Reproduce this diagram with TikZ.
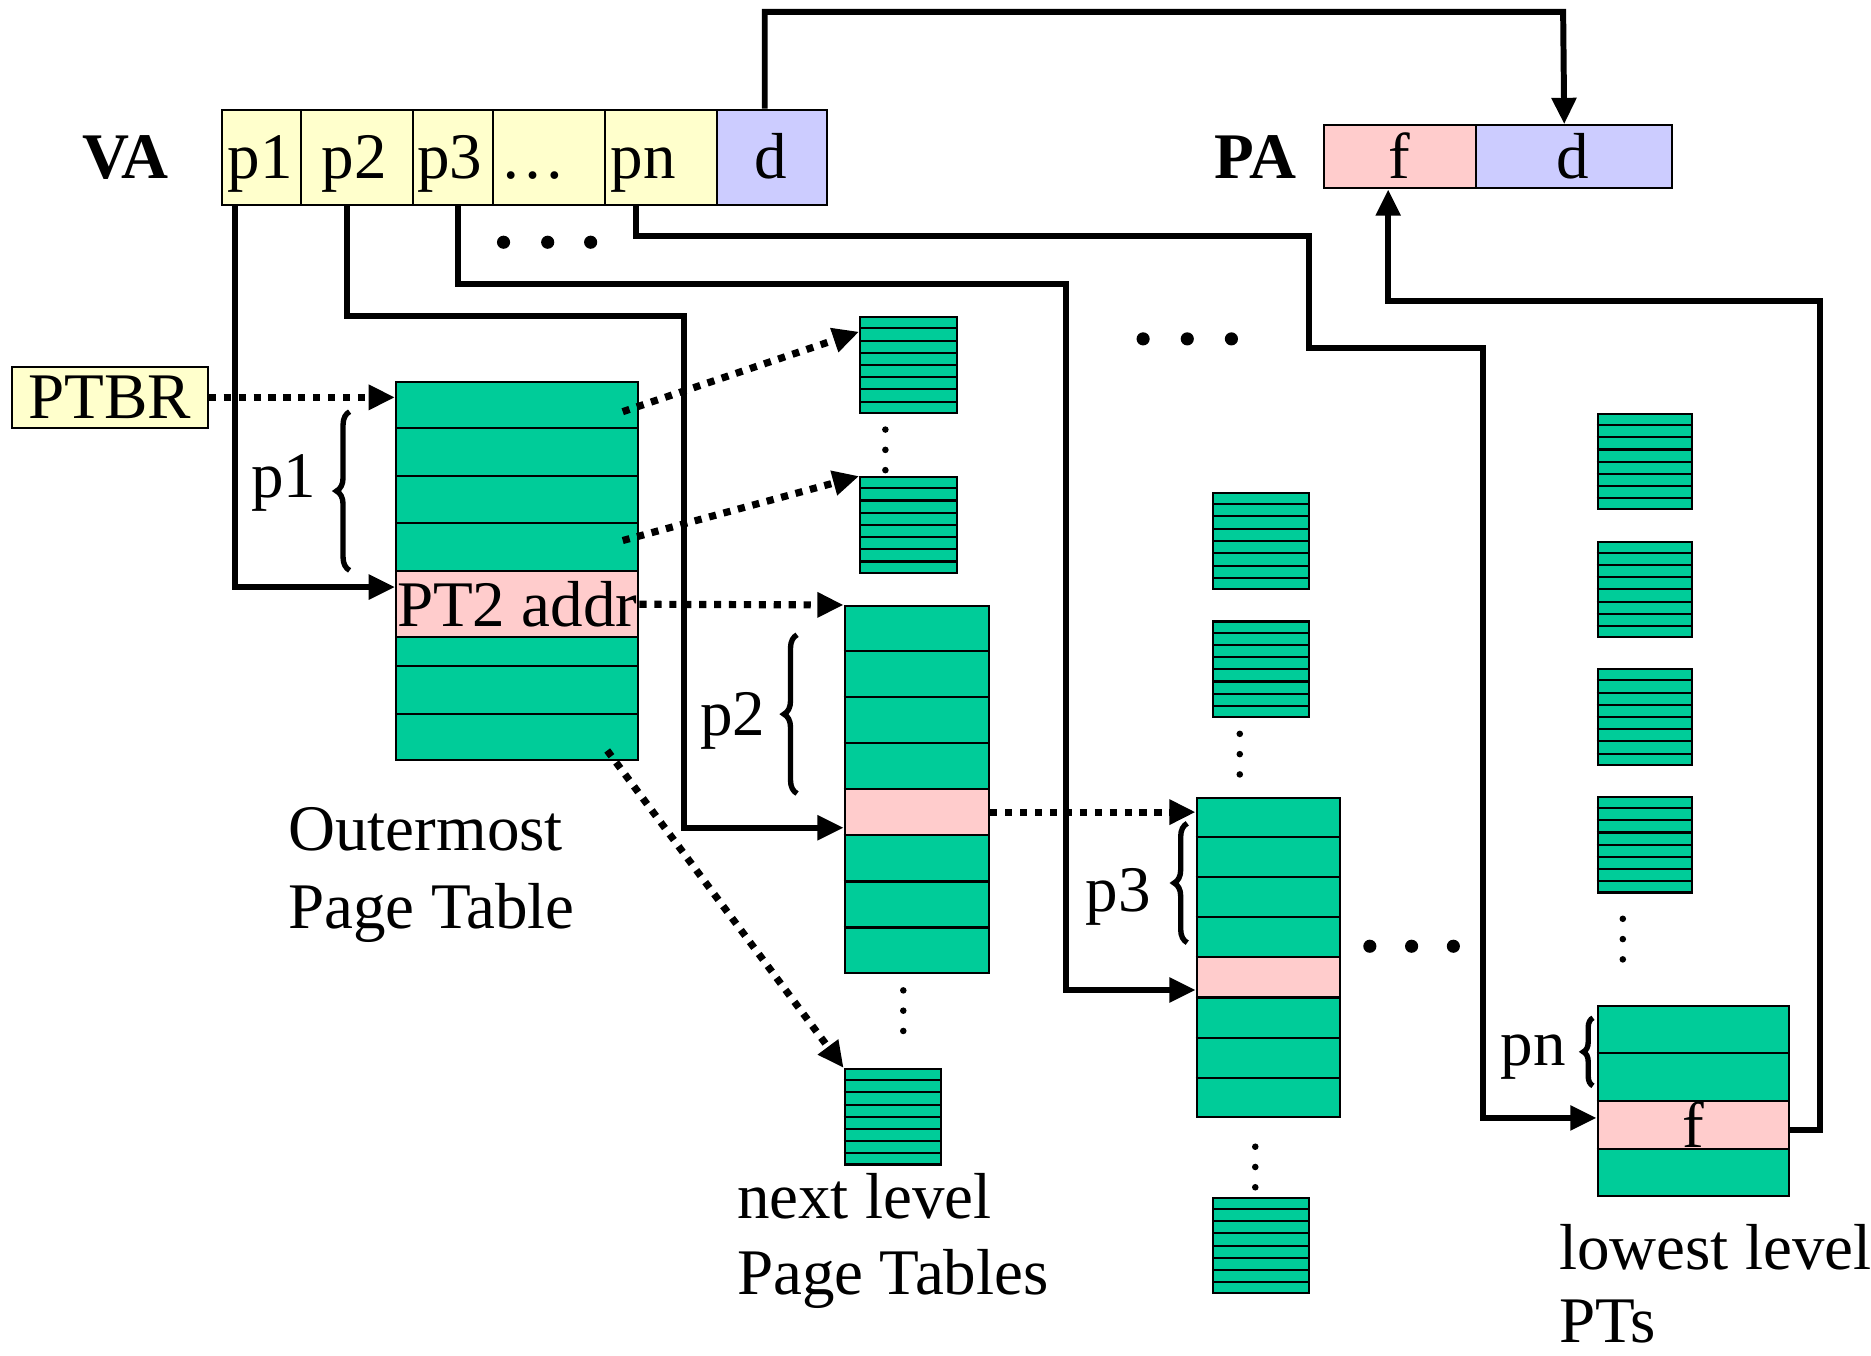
\documentclass[tikz,border=0pt]{standalone}
\usepackage{fontspec}
\setmainfont{Liberation Serif}
\usetikzlibrary{arrows.meta,calc,decorations.pathreplacing}
\definecolor{tgreen}{RGB}{0,204,153}
\definecolor{tpink}{RGB}{255,204,204}
\definecolor{tyellow}{RGB}{255,255,204}
\definecolor{tblue}{RGB}{204,204,255}
\newcommand{\mytable}[6]{%
  \node[tbl, minimum width=#4, minimum height=#5] (#1) at (#2,#3) {};
  \pgfmathtruncatemacro{\nrm}{#6-1}%
  \foreach \i in {1,...,\nrm}{%
    \draw[rowline] ($(#1.north west)!\i/#6!(#1.south west)$) -- ($(#1.north east)!\i/#6!(#1.south east)$);
  }%
}
\begin{document}
\begin{tikzpicture}[x=0.01cm,y=-0.01cm,
  every node/.style={font=\fontsize{15.5}{18.2}\selectfont},
  tbl/.style={draw=black, line width=0.5pt, fill=tgreen, inner sep=0pt, anchor=north west},
  rowline/.style={draw=black, line width=0.5pt},
  prow/.style={draw=black, line width=0.5pt, fill=tpink, inner sep=0pt, anchor=north west},
  cell/.style={draw=black, line width=0.5pt, inner sep=0pt, anchor=north west},
  conn/.style={line width=0.05cm, -{Triangle[length=0.22cm,width=0.2cm]}},
  dotarrow/.style={line width=0.06cm, dash pattern=on 0.06cm off 0.065cm, -{Triangle[length=0.22cm,width=0.2cm]}},
  brc/.style={decorate, decoration={brace, amplitude=0.11cm}, line width=0.045cm},
  bigdot/.style={circle, fill=black, inner sep=0pt, minimum size=0.11cm},
  smalldot/.style={circle, fill=black, inner sep=0pt, minimum size=0.055cm},
  lbl/.style={anchor=base},
]
\useasboundingbox (0,0) rectangle (1568,1136);

% ---------- VA ----------
\node[font=\fontsize{15.5}{18.2}\selectfont\bfseries, anchor=base] (va) at (105,150) {VA};
\node[cell, fill=tyellow, minimum width=0.66cm, minimum height=0.8cm] (p1) at (185,91) {};
\node[cell, fill=tyellow, minimum width=0.94cm, minimum height=0.8cm] (p2) at (251,91) {};
\node[cell, fill=tyellow, minimum width=0.67cm, minimum height=0.8cm] (p3) at (345,91) {};
\node[cell, fill=tyellow, minimum width=0.94cm, minimum height=0.8cm] (pdots) at (412,91) {};
\node[cell, fill=tyellow, minimum width=0.94cm, minimum height=0.8cm] (pn) at (506,91) {};
\node[cell, fill=tblue, minimum width=0.92cm, minimum height=0.8cm] (vad) at (600,91) {};
\node[lbl] (l1) at (218,150) {p1};
\node[lbl] (l2) at (297,150) {p2};
\node[lbl] (l3) at (377,150) {p3};
\node[anchor=base west, inner sep=0pt] (ldots) at (419,150) {…};
\node[anchor=base west, inner sep=0pt] (lpn) at (511,150) {pn};
\node[lbl] (ld) at (646,150) {d};

% ---------- PA ----------
\node[font=\fontsize{15.5}{18.2}\selectfont\bfseries, anchor=base] (pa) at (1052,150) {PA};
\node[cell, fill=tpink, minimum width=1.27cm, minimum height=0.53cm] (paf) at (1109,104) {};
\node[cell, fill=tblue, minimum width=1.64cm, minimum height=0.53cm] (pad) at (1236,104) {};
\node[lbl] (lf) at (1173,150) {f};
\node[lbl] (lpd) at (1318,150) {d};

% ---------- PTBR ----------
\node[draw=black, line width=0.5pt, fill=tyellow, minimum width=1.64cm, minimum height=0.51cm, inner sep=0pt] (ptbr) at (92,333) {PTBR};

% ---------- tables ----------
\mytable{ot}{331}{319}{2.03cm}{3.17cm}{8}
\node[prow, minimum width=2.03cm, minimum height=0.55cm] (pt2) at (331,478) {PT2 addr};

\mytable{ta}{720}{265}{0.81cm}{0.80cm}{8}
\mytable{tb}{720}{399}{0.81cm}{0.80cm}{8}
\mytable{t2}{707}{507}{1.21cm}{3.07cm}{8}
\node[prow, minimum width=1.21cm, minimum height=0.384cm] (t2p) at (707,660.5) {};
\mytable{tc}{707}{895}{0.81cm}{0.80cm}{8}

\mytable{td}{1016}{412}{0.80cm}{0.81cm}{8}
\mytable{te}{1016}{520}{0.80cm}{0.80cm}{8}
\mytable{t3}{1002}{668}{1.20cm}{2.67cm}{8}
\node[prow, minimum width=1.20cm, minimum height=0.334cm] (t3p) at (1002,801.5) {};
\mytable{tf}{1016}{1003}{0.80cm}{0.80cm}{8}

\mytable{tg}{1338}{346}{0.79cm}{0.80cm}{8}
\mytable{th}{1338}{453}{0.79cm}{0.80cm}{8}
\mytable{ti}{1338}{560}{0.79cm}{0.80cm}{8}
\mytable{tj}{1338}{667}{0.79cm}{0.80cm}{8}
\mytable{tk}{1338}{842}{1.60cm}{1.59cm}{4}
\node[prow, minimum width=1.60cm, minimum height=0.40cm] (tkp) at (1338,922) {f};

% ---------- labels ----------
\node[anchor=base west, inner sep=0pt] (om1) at (241,713) {Outermost};
\node[anchor=base west, inner sep=0pt] (om2) at (241,778) {Page Table};
\node[anchor=base west, inner sep=0pt] (nl1) at (617,1021) {next level};
\node[anchor=base west, inner sep=0pt] (nl2) at (617,1085) {Page Tables};
\node[anchor=base west, inner sep=0pt] (ll1) at (1306,1064) {lowest level};
\node[anchor=base west, inner sep=0pt] (ll2) at (1306,1125) {PTs};

% ---------- braces ----------
\draw[brc] (293,478) -- (293,345);
\node (bp1) at (238,405) {p1};
\draw[brc] (668,665) -- (668,532);
\node (bp2) at (614,604) {p2};
\draw[brc] (995,790) -- (995,690);
\node (bp3) at (937,752) {p3};
\draw[brc, decoration={brace, amplitude=0.08cm}] (1335,910) -- (1335,853);
\node (bpn) at (1285,886) {pn};

% ---------- dots ----------
\node[bigdot] (da1) at (422,203) {};
\node[bigdot] (da2) at (459,203) {};
\node[bigdot] (da3) at (495,203) {};
\node[bigdot] (db1) at (958,284) {};
\node[bigdot] (db2) at (995,284) {};
\node[bigdot] (db3) at (1032,284) {};
\node[bigdot] (dc1) at (1148,793) {};
\node[bigdot] (dc2) at (1183,793) {};
\node[bigdot] (dc3) at (1218,793) {};
\foreach \n/\x/\y in {s1/742/360, s2/757/830, s3/1039/615, s4/1052/961, s5/1360/770}{
  \node[smalldot] (\n a) at (\x,\y) {};
  \node[smalldot] (\n b) at (\x,\y+17) {};
  \node[smalldot] (\n c) at (\x,\y+34) {};
}

% ---------- coordinates for bends ----------
\coordinate (bt) at (1310,10);
\coordinate (b2) at (573,265);
\coordinate (b3) at (893,238);
\coordinate (bn1) at (1097,198);
\coordinate (bn2) at (1243,292);
\coordinate (br) at (1525,252);

% ---------- solid connectors ----------
\draw[conn] ($(vad.north)+(-6,0)$) |- (bt) -- ($(pad.north)+(-8,0)$);
\draw[conn] ($(p1.south west)+(12,0)$) |- ($(pt2.north west)+(0,14)$);
\draw[conn] ($(p2.south west)+(40,0)$) |- (b2) |- ($(t2p.south west)+(0,-7)$);
\draw[conn] ($(p3.south west)+(39,0)$) |- (b3) |- ($(t3p.south west)+(0,-7)$);
\draw[conn] ($(pn.south west)+(27,0)$) |- (bn1) |- (bn2) |- ($(tkp.west)+(0,-6)$);
\draw[conn] ($(tkp.east)+(0,4)$) -| (br) -| ($(paf.south)+(-10,0)$);

% ---------- dotted connectors ----------
\draw[dotarrow] (ptbr.east) -- (ptbr.east -| ot.west);
\draw[dotarrow] ($(ot.north east)+(-14,26)$) -- ($(ta.north west)+(0,13)$);
\draw[dotarrow] ($(ot.north east)+(-14,134)$) -- (tb.north west);
\draw[dotarrow] (pt2.east) -- (t2.north west);
\draw[dotarrow] ($(ot.south east)+(-27,-9)$) -- (tc.north west);
\draw[dotarrow] (t2p.east) -- (t2p.east -| t3.west);
\end{tikzpicture}
\end{document}
